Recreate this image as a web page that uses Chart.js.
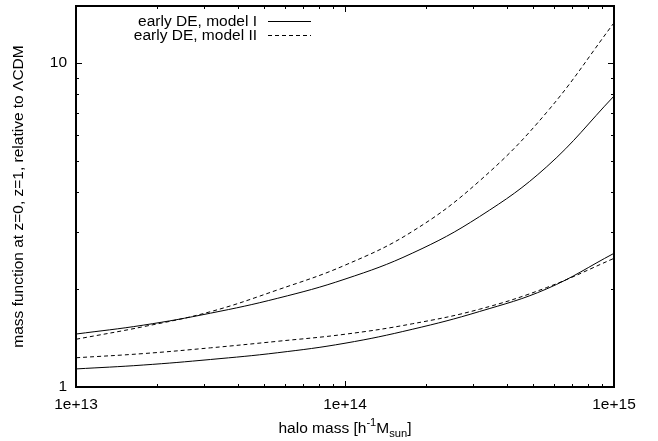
<!DOCTYPE html>
<html>
<head>
<meta charset="utf-8">
<script src="https://cdn.jsdelivr.net/npm/chart.js@4"></script>
<style>
  html, body { margin: 0; padding: 0; background: #fff; }
  canvas { display: block; }
</style>
</head>
<body>
<canvas id="massChart" width="658" height="441"></canvas>
<script>
const FONT = '"Liberation Sans", Arial, Helvetica, sans-serif';
const FONT_SIZE = 15.5;

// halo mass samples [h^-1 M_sun]
const haloMass = [1e13, 1.778e13, 3.162e13, 5.623e13, 1e14, 1.778e14, 3.162e14, 5.623e14, 1e15];

// mass function ratio to LCDM
const modelI_z1 = [1.457, 1.552, 1.690, 1.879, 2.153, 2.588, 3.357, 4.786, 7.907];
const modelII_z1 = [1.404, 1.535, 1.708, 1.995, 2.377, 3.020, 4.325, 7.047, 13.31];
const modelI_z0 = [1.137, 1.169, 1.216, 1.276, 1.365, 1.507, 1.710, 2.009, 2.586];
const modelII_z0 = [1.231, 1.268, 1.321, 1.384, 1.455, 1.567, 1.738, 2.028, 2.495];

const xTickValues = [1e13, 1e14, 1e15];
const xTickLabels = ['1e+13', '1e+14', '1e+15'];
const yTickValues = [1, 10];
const yTickLabels = ['1', '10'];

const seriesNames = ['early DE, model I', 'early DE, model II'];
const DASH = [4, 3];

const points = (ys) => haloMass.map((m, i) => ({ x: m, y: ys[i] }));

function curve(label, ys, dashed) {
  return {
    label: label,
    data: points(ys),
    borderColor: '#000',
    borderWidth: 1,
    borderDash: dashed ? DASH : [],
    pointRadius: 0,
    fill: false,
    tension: 0.4
  };
}

// gnuplot style frame: border, inward major/minor ticks on all four sides
const framePlugin = {
  id: 'frame',
  afterDatasetsDraw(chart) {
    const ctx = chart.ctx;
    const a = chart.chartArea;
    const xs = chart.scales.x, ys = chart.scales.y;
    ctx.save();
    ctx.strokeStyle = '#000';
    ctx.lineWidth = 1;
    ctx.beginPath();
    // x ticks
    [1e13, 1e14].forEach(dec => {
      for (let k = 1; k <= 9; k++) {
        const px = Math.round(xs.getPixelForValue(dec * k)) + 0.5;
        const len = k === 1 ? 6 : 3;
        ctx.moveTo(px, a.bottom); ctx.lineTo(px, a.bottom - len);
        ctx.moveTo(px, a.top); ctx.lineTo(px, a.top + len);
      }
    });
    // y ticks
    [1, 10].forEach(dec => {
      for (let k = 1; k <= 9; k++) {
        const v = dec * k;
        if (v > ys.max) break;
        const py = Math.round(ys.getPixelForValue(v)) + 0.5;
        const len = k === 1 ? 6 : 3;
        ctx.moveTo(a.left, py); ctx.lineTo(a.left + len, py);
        ctx.moveTo(a.right, py); ctx.lineTo(a.right - len, py);
      }
    });
    ctx.stroke();
    ctx.lineWidth = 2;
    ctx.strokeRect(a.left, a.top, a.right - a.left, a.bottom - a.top);
    ctx.restore();
  }
};

// key in the top left, text right aligned before the line sample
const keyPlugin = {
  id: 'key',
  afterDraw(chart) {
    const ctx = chart.ctx;
    ctx.save();
    ctx.font = FONT_SIZE + 'px ' + FONT;
    ctx.fillStyle = '#000';
    ctx.strokeStyle = '#000';
    ctx.lineWidth = 1;
    ctx.textAlign = 'right';
    ctx.textBaseline = 'middle';
    seriesNames.forEach((name, i) => {
      const y = 21 + i * 14;
      ctx.fillText(name, 257, y + 1);
      ctx.setLineDash(i === 1 ? DASH : []);
      ctx.beginPath();
      ctx.moveTo(268, y + 0.5);
      ctx.lineTo(311, y + 0.5);
      ctx.stroke();
    });
    ctx.restore();
  }
};

// axis titles, with super/subscripts on the mass unit
const titlePlugin = {
  id: 'titles',
  afterDraw(chart) {
    const ctx = chart.ctx;
    const a = chart.chartArea;
    ctx.save();
    ctx.fillStyle = '#000';
    ctx.textBaseline = 'alphabetic';
    ctx.textAlign = 'left';

    const big = FONT_SIZE + 'px ' + FONT;
    const small = (FONT_SIZE * 0.72) + 'px ' + FONT;
    const parts = [
      { t: 'halo mass [h', f: big, dy: 0 },
      { t: '-1', f: small, dy: -7 },
      { t: 'M', f: big, dy: 0 },
      { t: 'sun', f: small, dy: 4 },
      { t: ']', f: big, dy: 0 }
    ];
    let total = 0;
    parts.forEach(p => { ctx.font = p.f; p.w = ctx.measureText(p.t).width; total += p.w; });
    let x = (a.left + a.right) / 2 - total / 2;
    const base = 433;
    parts.forEach(p => { ctx.font = p.f; ctx.fillText(p.t, x, base + p.dy); x += p.w; });

    ctx.font = big;
    ctx.textAlign = 'center';
    ctx.textBaseline = 'middle';
    ctx.translate(19, (a.top + a.bottom) / 2);
    ctx.rotate(-Math.PI / 2);
    ctx.fillText('mass function at z=0, z=1, relative to \u039BCDM', 0, 0);
    ctx.restore();
  }
};

const chartEl = document.getElementById('massChart');

const config = {
  type: 'line',
  data: {
    datasets: [
      curve(seriesNames[0], modelI_z1, false),
      curve(seriesNames[1], modelII_z1, true),
      curve(seriesNames[0] + ' z=0', modelI_z0, false),
      curve(seriesNames[1] + ' z=0', modelII_z0, true)
    ]
  },
  options: {
    responsive: false,
    animation: false,
    devicePixelRatio: 1,
    layout: { padding: { left: 0, right: 44, top: 6, bottom: 0 } },
    plugins: {
      legend: { display: false },
      tooltip: { enabled: false }
    },
    scales: {
      x: {
        type: 'logarithmic',
        min: 1e13,
        max: 1e15,
        afterBuildTicks: (s) => { s.ticks = xTickValues.map(v => ({ value: v })); },
        afterFit: (s) => {
          s.height = 54;
          s.paddingLeft = 0;
          s.paddingRight = 0;
        },
        grid: { display: false, drawTicks: false },
        border: { display: false },
        ticks: {
          autoSkip: false,
          maxRotation: 0,
          padding: 8,
          color: '#000',
          font: { family: FONT, size: FONT_SIZE },
          callback: (v) => xTickLabels[xTickValues.indexOf(v)] ?? ''
        }
      },
      y: {
        type: 'logarithmic',
        min: 1,
        max: 15,
        afterBuildTicks: (s) => { s.ticks = yTickValues.map(v => ({ value: v })); },
        afterFit: (s) => {
          s.width = 76;
          s.paddingTop = 0;
          s.paddingBottom = 0;
        },
        grid: { display: false, drawTicks: false },
        border: { display: false },
        ticks: {
          padding: 9,
          color: '#000',
          font: { family: FONT, size: FONT_SIZE },
          callback: (v) => yTickLabels[yTickValues.indexOf(v)] ?? ''
        }
      }
    }
  },
  plugins: [framePlugin, keyPlugin, titlePlugin]
};

const massChart = new Chart(chartEl, config);
</script>
</body>
</html>
